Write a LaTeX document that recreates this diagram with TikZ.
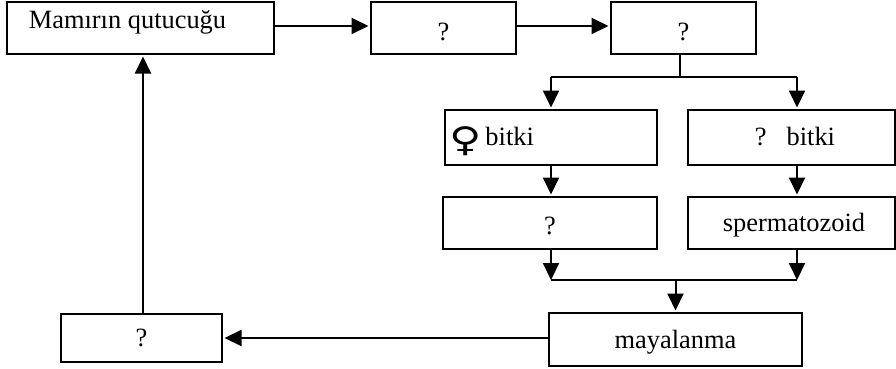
\documentclass[tikz,border=0pt]{standalone}
\usepackage{fontspec}
\setmainfont{Liberation Serif}
\newfontfamily\symfont{DejaVu Sans}
\usetikzlibrary{arrows.meta}
\begin{document}
\begin{tikzpicture}[
        x=1pt, y=1pt,
        box/.style = {draw, line width=2pt, inner sep=0pt, font=\fontsize{26.4}{30}\selectfont, text depth=0pt},
        toarrow/.style = {line width=2pt, -{Triangle[length=17pt,width=16pt]}, shorten >=1.5pt},
        line/.style = {line width=2pt}
    ]
        \useasboundingbox (0,0) rectangle (896,-368);
        \node[box,minimum width=267pt,minimum height=52pt,text height=0pt] (moss) at (140.5,-28) {\hspace*{-26pt}Mamırın qutucuğu};
        \node[box,minimum width=145pt,minimum height=52pt,text height=24pt] (capsule) at (443.5,-28) {?};
        \node[box,minimum width=145pt,minimum height=52pt,text height=24pt] (spore) at (683.5,-28) {?};
        \node[box,minimum width=212pt,minimum height=55pt,text height=16pt] (female) at (551,-137.5) {\hspace*{-118.5pt}\raisebox{-6pt}{\scalebox{1.3}[1]{\symfont\fontsize{34}{30}\selectfont ♀}}\hspace{3.5pt}bitki};
        \node[box,minimum width=207pt,minimum height=55pt,text height=16pt] (male) at (791.5,-137.5) {\hspace*{7pt}?\hspace{20pt}bitki};
        \node[box,minimum width=214pt,minimum height=52pt,text height=22pt] (egg) at (550,-223) {?};
        \node[box,minimum width=207pt,minimum height=52pt,text height=17pt] (sperm) at (791.5,-223) {\hspace*{5pt}spermatozoid};
        \node[box,minimum width=253pt,minimum height=53pt,text height=17pt] (fert) at (675.5,-339.5) {mayalanma};
        \node[box,minimum width=161pt,minimum height=48pt,text height=16pt] (zygote) at (141.5,-338) {?};
        \coordinate (split) at (680,-77);
        \coordinate (splitl) at (551,-77);
        \coordinate (splitr) at (797,-77);
        \coordinate (join) at (675.5,-280);
        \coordinate (joinl) at (551,-280);
        \coordinate (joinr) at (797,-280);
        \draw[toarrow] ([yshift=2pt]moss.east) -- ([yshift=2pt]capsule.west);
        \draw[toarrow] ([yshift=2pt]capsule.east) -- ([yshift=2pt]spore.west);
        \draw[line] (spore.south -| split) -- (split);
        \draw[line] (splitl) -- (splitr);
        \draw[toarrow] (splitl) -- (female.north);
        \draw[toarrow] (splitr) -- (male.north -| splitr);
        \draw[toarrow] (female.south) -- (egg.north -| female.south);
        \draw[toarrow] (male.south -| splitr) -- (sperm.north -| splitr);
        \draw[toarrow,shorten >=0pt] (egg.south -| joinl) -- (joinl);
        \draw[toarrow,shorten >=0pt] (sperm.south -| joinr) -- (joinr);
        \draw[line] (joinl) -- (joinr);
        \draw[toarrow] (join) -- (fert.north);
        \draw[toarrow] (fert.west |- zygote.east) -- (zygote.east);
        \draw[toarrow] ([xshift=1.5pt]zygote.north) -- ([xshift=1.5pt]zygote.north |- moss.south);
    \end{tikzpicture}
\end{document}
